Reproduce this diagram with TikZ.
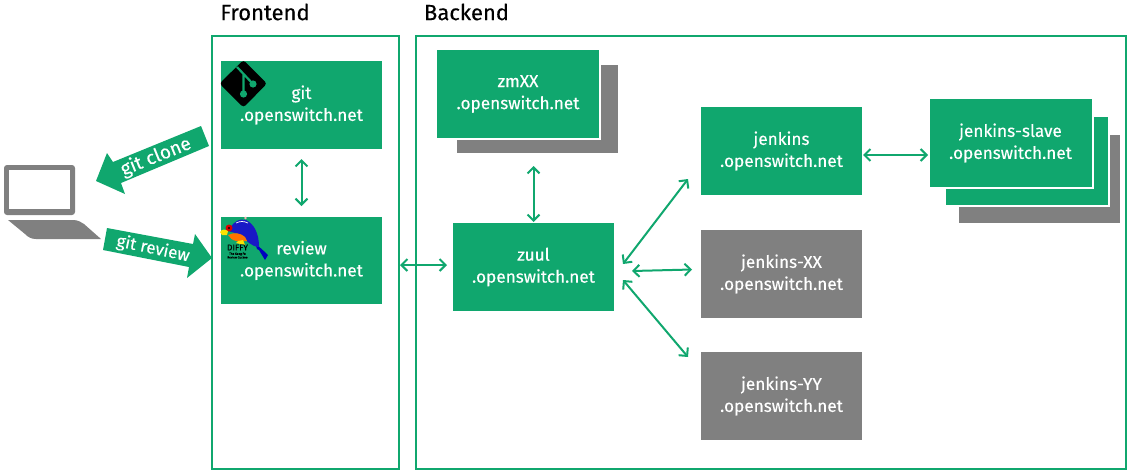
\documentclass[tikz,border=0pt]{standalone}
\usepackage{fontspec}
\setmainfont[FakeBold=0.25]{Fira Sans}
\usetikzlibrary{arrows.meta}
\definecolor{hpgreen}{RGB}{16,167,110}
\definecolor{hpgray}{RGB}{128,128,128}
\tikzset{
  x=1pt,y=-1pt,
  box/.style={minimum width=161pt,minimum height=88pt,inner sep=0pt,outer sep=0pt,align=center,text=white,font=\fontsize{17.2}{22}\selectfont},
  greenbox/.style={box,fill=hpgreen},
  graybox/.style={box,fill=hpgray},
  stacked/.style={draw=white,line width=2pt},
  zone/.style={draw=hpgreen,line width=1.6pt,inner sep=0pt,outer sep=0pt},
  zonelabel/.style={text=black,font=\fontsize{22}{24}\selectfont,inner sep=0pt},
  link/.style={draw=hpgreen,line width=2pt,{Straight Barb[length=6pt,width=12pt]}-{Straight Barb[length=6pt,width=12pt]}},
  blockarrow/.style={fill=hpgreen},
  blocklabel/.style={text=white,font=\fontsize{19}{20}\selectfont,inner sep=0pt}
}
\begin{document}
\begin{tikzpicture}
\useasboundingbox (0,0) rectangle (1129,472);
% zones
\node[zone,minimum width=187pt,minimum height=433pt] (frontend) at (305.5,252.5) {};
\node[zone,minimum width=710pt,minimum height=433pt] (backend) at (771,252.5) {};
\node[zonelabel] (frontendlabel) at (265,12) {Frontend};
\node[zonelabel] (backendlabel) at (466.5,12) {Backend};
% frontend boxes
\node[greenbox] (git) at (301.5,105) {git\\.openswitch.net};
\node[greenbox,minimum height=87pt] (review) at (301.5,260.5) {review\\.openswitch.net};
% backend stacks
\node[graybox] (zmback) at (537,109) {};
\node[greenbox,stacked,minimum width=164pt,minimum height=90pt] (zm) at (518,94) {zmXX\\.openswitch.net};
\node[greenbox] (zuul) at (533.5,267) {zuul\\.openswitch.net};
\node[greenbox] (jenkins) at (781.5,151) {jenkins\\.openswitch.net};
\node[graybox] (xx) at (781.5,274) {jenkins-XX\\.openswitch.net};
\node[graybox] (yy) at (781.5,396) {jenkins-YY\\.openswitch.net};
\node[graybox] (slaveback) at (1039.5,179) {};
\node[greenbox,stacked,minimum width=164pt,minimum height=90pt] (slavemid) at (1027,160.5) {};
\node[greenbox,stacked,minimum width=164pt,minimum height=90pt] (slave) at (1010.5,143) {jenkins-slave\\.openswitch.net};
% connector ends
\coordinate (zuulwest) at (447,265);
\coordinate (frontendeast) at (400,265);
\coordinate (zuulup) at (623,264);
\coordinate (jenkinsend) at (688,179);
\coordinate (zuulmid) at (632,271);
\coordinate (xxend) at (692,269.5);
\coordinate (zuuldown) at (623,280);
\coordinate (yyend) at (688,357);
\coordinate (jenkinseast) at (863,155);
\coordinate (slavewest) at (928,155);
% connectors
\draw[link,shorten <=10pt,shorten >=11pt] (git.south) -- (review.north);
\draw[link,shorten <=13pt,shorten >=1pt] (zmback.south -| zuul.north) -- (zuul.north);
\draw[link] (frontendeast) -- (zuulwest);
\draw[link] (zuulup) -- (jenkinsend);
\draw[link] (zuulmid) -- (xxend);
\draw[link] (zuuldown) -- (yyend);
\draw[link] (jenkinseast) -- (slavewest);
% laptop
\fill[hpgray,rounded corners=3pt] (4,165) rectangle (75,215);
\fill[white] (9,170) rectangle (70,209);
\fill[hpgray] (8,220) -- (73,220) .. controls (78,220) and (81,222) .. (84,224) -- (101,239) -- (36,239) .. controls (31,239) and (28,237) .. (25,234) -- cycle;
% block arrows
\fill[blockarrow] (201,126) -- (209,146) -- (121,183) -- (125,194) -- (96,181) -- (107,153) -- (113,162) -- cycle;
\node[blocklabel,rotate=22] (clonelabel) at (156,157) {git clone};
\fill[blockarrow] (107,228) -- (103,250) -- (189,267) -- (187,278) -- (212,258) -- (195,234) -- (193,244) -- cycle;
\node[blocklabel,rotate=-12,font=\fontsize{17}{18}\selectfont] (reviewlabel) at (153,249) {git review};
% git logo
\fill[black,rounded corners=3pt] (219.5,83.5) -- (243.5,60) -- (267,83.5) -- (243.5,107.5) -- cycle;
\draw[hpgreen,line width=2.2pt] (237,67) -- (253,84) (243.5,74.5) -- (243.5,94);
\fill[hpgreen] (253,84) circle (3.6) (243.5,94) circle (3.6);
% diffy bird
\fill[blue!75!black] (266,253) -- (268,255) -- (265,260) -- (259,250) -- (257,249) -- (255,243) -- cycle;
\fill[blue!75!black!90] (229,231) .. controls (232,222) and (240,218) .. (246,220) .. controls (254,224) and (259,233) .. (259,247) .. controls (252,247) and (245,240) .. (243,236) .. controls (236,232) and (232,233) .. (229,231) -- cycle;
\fill[orange!90!red] (228,235) .. controls (234,232) and (241,233) .. (245,237) -- (247,241) -- (236,241) .. controls (232,240) and (230,238) .. (228,235) -- cycle;
\fill[red!85!black] (229,228) circle (3.5);
\fill[black] (229,228) circle (1.2);
\fill[yellow!85!orange] (220,232) .. controls (222,229) and (225,229) .. (228,231) -- (227,235) -- (222,235) -- cycle;
\draw[white,line width=0.7pt] (236,223) .. controls (240,221) and (244,221) .. (248,223);
\fill[red!30!white] (245.5,218) circle (1.4);
\fill[yellow!85!orange] (238,241) -- (243,240) -- (245,245) -- (236,243) -- cycle;
\node[inner sep=0pt,text=black,font=\fontsize{8.5}{9}\selectfont] (diffylabel) at (237.5,247.5) {DIFFY};
\node[inner sep=0pt,text=black,align=center,font=\fontsize{3}{3.6}\selectfont] (diffysub) at (237.5,255.5) {The Kung Fu\\Review Cuckoo};
\end{tikzpicture}
\end{document}
